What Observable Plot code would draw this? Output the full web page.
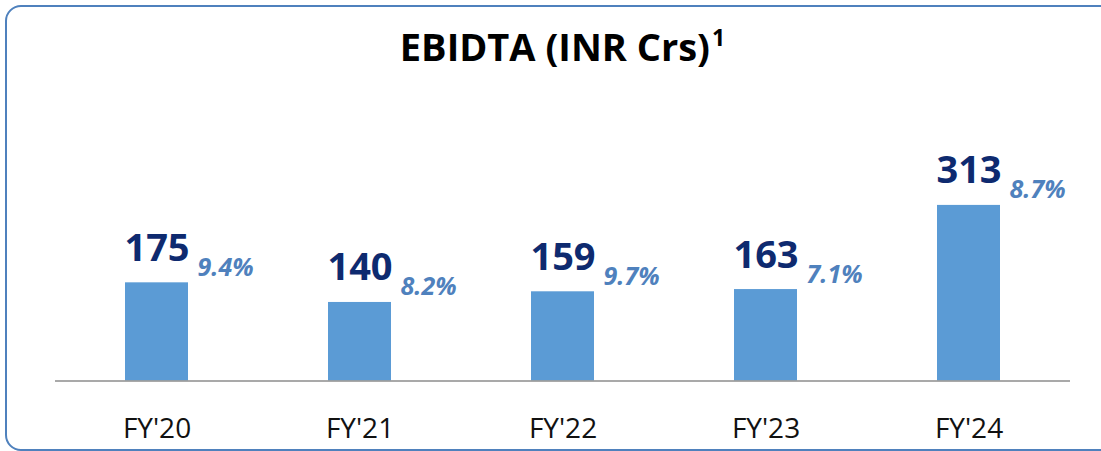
<!DOCTYPE html>
<html>
<head>
<meta charset="utf-8">
<script src="https://cdn.jsdelivr.net/npm/d3@7"></script>
<script src="https://cdn.jsdelivr.net/npm/@observablehq/plot@0.6"></script>
<style>
  html, body { margin: 0; padding: 0; background: #fff; overflow: hidden; }
  #wrap { position: relative; width: 1101px; height: 451px; overflow: hidden; font-family: "Open Sans", sans-serif; }
  #frame { position: absolute; left: 5px; top: 5px; width: 1120px; height: 446px; border: 2.5px solid #4f81bd; border-radius: 16px; box-sizing: border-box; }
  #title { position: absolute; left: 55px; width: 1015px; top: 27px; text-align: center; font-size: 38px; line-height: 38px; font-weight: 700; color: #000; white-space: nowrap; }
  #title span { font-size: 23px; position: relative; top: -15px; margin-left: 2px; }
  #chart { position: absolute; left: 0; top: 0; }
</style>
</head>
<body>
<div id="wrap">
  <div id="frame"></div>
  <div id="chart"></div>
  <div id="title">EBIDTA (INR Crs)<span>1</span></div>
</div>
<script>
const years = ["FY'20", "FY'21", "FY'22", "FY'23", "FY'24"];
const ebitda = [175, 140, 159, 163, 313];
const margins = ["9.4%", "8.2%", "9.7%", "7.1%", "8.7%"];

const data = years.map((y, i) => ({year: y, value: ebitda[i], margin: margins[i]}));

const chart = Plot.plot({
  width: 1101,
  height: 451,
  marginLeft: 55,
  marginRight: 31,
  marginTop: 100,
  marginBottom: 70.5,
  style: {fontFamily: "'Open Sans', sans-serif", color: "#111", background: "transparent", overflow: "visible"},
  x: {domain: years, paddingInner: 0.69, paddingOuter: 0.345},
  y: {domain: [0, 500], axis: null},
  marks: [
    Plot.barY(data, {x: "year", y: "value", fill: "#5b9bd5"}),
    Plot.ruleY([0], {stroke: "#8c8c8c", strokeWidth: 1.5}),
    Plot.text(data, {x: "year", y: "value", text: d => String(d.value), dy: -22, lineAnchor: "bottom",
      fontSize: 38, fontWeight: 700, fill: "#0e2a6f"}),
    Plot.text(data, {x: "year", y: "value", text: "margin", dx: 40.5, dy: -7, lineAnchor: "bottom", textAnchor: "start",
      fontSize: 25, fontWeight: 700, fontStyle: "italic", fill: "#4f81bd"}),
    Plot.axisX({tickSize: 0, tickPadding: 37, fontSize: 28, label: null, fill: "#111"})
  ]
});
document.getElementById("chart").appendChild(chart);
</script>
</body>
</html>
